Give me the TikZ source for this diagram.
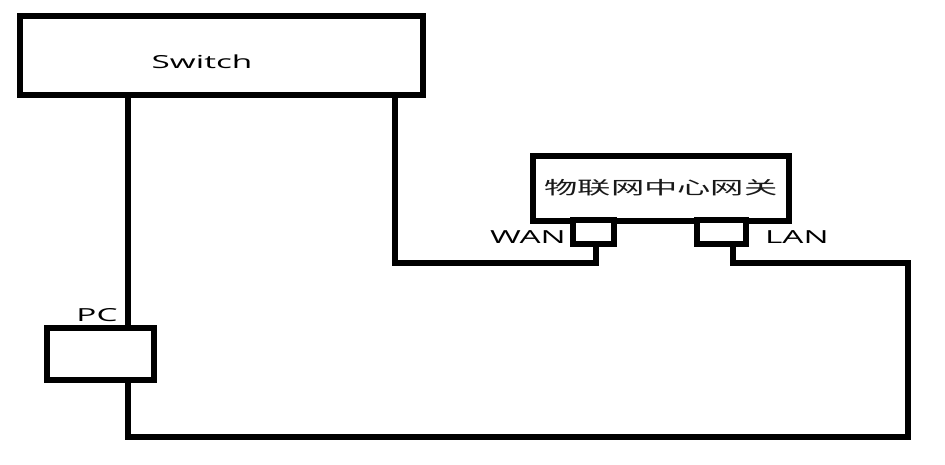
\documentclass[tikz,border=0pt]{standalone}
\usepackage{fontspec}
\setmainfont{Open Sans}
\newfontfamily\cjkfont{Noto Sans CJK SC}
\usepackage{graphicx}
\newcommand\widetext[1]{\scalebox{1.85}[1]{#1}}
\begin{document}
\begin{tikzpicture}[x=1pt,y=-1pt,
  box/.style={draw=black, line width=6pt, line join=miter, rectangle, inner sep=0pt, fill=white},
  wire/.style={draw=black, line width=6pt, line join=miter},
  lbl/.style={inner sep=0pt, font=\fontsize{18}{20}\selectfont, text=black}]
\useasboundingbox[fill=white] (0,0) rectangle (945,464);
% boxes
\node[box, minimum width=403pt, minimum height=79pt] (sw) at (221.5,55.5) {};
\node[box, minimum width=256pt, minimum height=65pt, font=\fontsize{18}{20}\selectfont\cjkfont, text=black!90] (gw) at (661,188) {\widetext{物联网中心网关}};
\node[box, minimum width=41pt, minimum height=24pt] (wan) at (593.5,232) {};
\node[box, minimum width=49pt, minimum height=24pt] (lan) at (721.5,232) {};
\node[box, minimum width=107pt, minimum height=52pt] (pc) at (100.5,354) {};
% labels
\node[lbl] (swl) at (202,62) {\widetext{Switch}};
\node[lbl] (pcl) at (97,315) {\widetext{PC}};
\node[lbl, anchor=east] (wanl) at (566,237) {\widetext{WAN}};
\node[lbl, anchor=west] (lanl) at (765,237) {\widetext{LAN}};
% route points
\coordinate (c1) at (128,437);
\coordinate (c2) at (908,437);
\coordinate (c3) at (908,263);
\coordinate (c4) at (733,263);
\coordinate (c5) at (395,263);
\coordinate (c6) at (596,263);
% wires
\draw[wire] (sw.south -| c1) -- (pc.north -| c1);
\draw[wire] (pc.south -| c1) -- (c1) -- (c2) -- (c3) -- (c4) -- (lan.south -| c4);
\draw[wire] (sw.south -| c5) -- (c5) -- (c6) -- (wan.south -| c6);
\end{tikzpicture}
\end{document}
